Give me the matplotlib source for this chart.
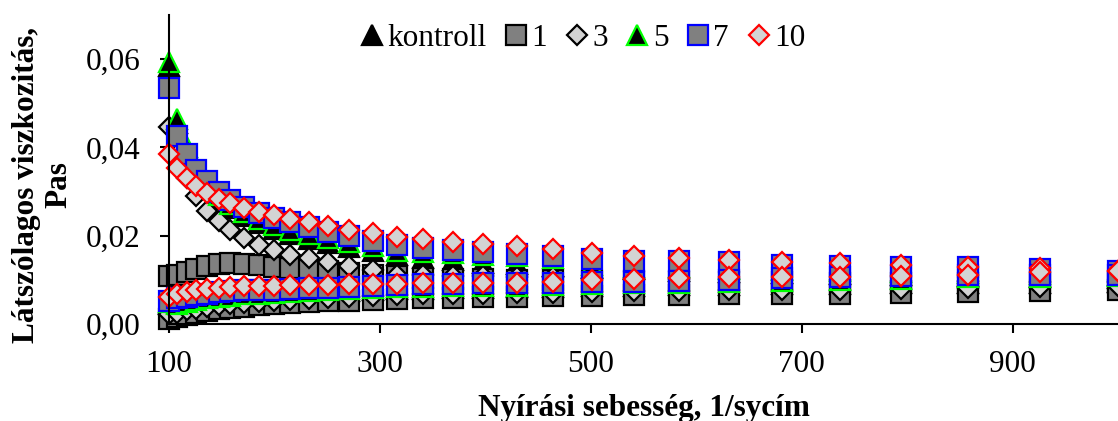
import matplotlib
matplotlib.use("Agg")
import matplotlib.pyplot as plt
from matplotlib import ticker as tick

plt.rcParams['font.family'] = ['Liberation Serif', 'DejaVu Serif']

# nyirasi sebesseg (1/s)
sebesseg = [100, 108, 117, 126, 136, 147, 158, 171, 185, 200, 215, 233, 251, 271, 293, 316,
            341, 369, 398, 430, 464, 501, 541, 584, 631, 681, 736, 794, 858, 926, 1000]

# latszolagos viszkozitas (Pas), felso es also ag mintankent
kontroll_felso = [0.0585, 0.0455, 0.0390, 0.0345, 0.0310, 0.0283, 0.0262, 0.0244, 0.0228, 0.0215,
                  0.0203, 0.0193, 0.0184, 0.0175, 0.0166, 0.0157, 0.0150, 0.0144, 0.0139, 0.0135,
                  0.0131, 0.0127, 0.0124, 0.0121, 0.0118, 0.0115, 0.0113, 0.0111, 0.0109, 0.0107, 0.0105]
kontroll_also = [0.0045, 0.0045, 0.0047, 0.0050, 0.0054, 0.0057, 0.0060, 0.0063, 0.0065, 0.0067,
                 0.0069, 0.0071, 0.0073, 0.0075, 0.0077, 0.0079, 0.0080, 0.0081, 0.0082, 0.0083,
                 0.0084, 0.0086, 0.0087, 0.0088, 0.0089, 0.0090, 0.0091, 0.0092, 0.0093, 0.0094, 0.0095]

m1_felso = [0.0109, 0.0112, 0.0117, 0.0124, 0.0131, 0.0136, 0.0138, 0.0136, 0.0133, 0.0129,
            0.0126, 0.0123, 0.0120, 0.0116, 0.0112, 0.0108, 0.0105, 0.0103, 0.0101, 0.0100,
            0.0099, 0.0098, 0.0097, 0.0096, 0.0096, 0.0095, 0.0094, 0.0094, 0.0093, 0.0093, 0.0092]
m1_also = [0.0011, 0.0015, 0.0020, 0.0025, 0.0029, 0.0033, 0.0036, 0.0039, 0.0042, 0.0045,
           0.0047, 0.0049, 0.0051, 0.0053, 0.0055, 0.0057, 0.0059, 0.0060, 0.0061, 0.0062,
           0.0063, 0.0064, 0.0065, 0.0066, 0.0067, 0.0068, 0.0069, 0.0071, 0.0073, 0.0075, 0.0077]

m3_felso = [0.0446, 0.0385, 0.0330, 0.0290, 0.0257, 0.0233, 0.0213, 0.0195, 0.0178, 0.0167,
            0.0157, 0.0149, 0.0140, 0.0132, 0.0122, 0.0112, 0.0110, 0.0109, 0.0108, 0.0107,
            0.0106, 0.0104, 0.0103, 0.0102, 0.0101, 0.0100, 0.0099, 0.0098, 0.0097, 0.0096, 0.0095]
m3_also = [0.0022, 0.0026, 0.0031, 0.0035, 0.0039, 0.0042, 0.0045, 0.0048, 0.0050, 0.0053,
           0.0055, 0.0057, 0.0059, 0.0061, 0.0063, 0.0065, 0.0067, 0.0068, 0.0069, 0.0070,
           0.0071, 0.0073, 0.0074, 0.0075, 0.0076, 0.0077, 0.0078, 0.0079, 0.0081, 0.0083, 0.0085]

m5_felso = [0.0593, 0.0465, 0.0400, 0.0355, 0.0320, 0.0293, 0.0272, 0.0254, 0.0238, 0.0225,
            0.0213, 0.0203, 0.0194, 0.0185, 0.0176, 0.0166, 0.0163, 0.0160, 0.0157, 0.0154,
            0.0150, 0.0133, 0.0130, 0.0128, 0.0125, 0.0122, 0.0120, 0.0118, 0.0116, 0.0114, 0.0112]
m5_also = [0.0050, 0.0046, 0.0050, 0.0054, 0.0058, 0.0061, 0.0064, 0.0067, 0.0069, 0.0071,
           0.0073, 0.0075, 0.0077, 0.0079, 0.0081, 0.0083, 0.0084, 0.0085, 0.0086, 0.0087,
           0.0088, 0.0091, 0.0092, 0.0093, 0.0095, 0.0097, 0.0100, 0.0103, 0.0106, 0.0107, 0.0108]

m7_felso = [0.0534, 0.0426, 0.0384, 0.0350, 0.0323, 0.0300, 0.0282, 0.0266, 0.0252, 0.0240,
            0.0230, 0.0220, 0.0209, 0.0199, 0.0189, 0.0179, 0.0173, 0.0167, 0.0163, 0.0159,
            0.0153, 0.0147, 0.0143, 0.0142, 0.0140, 0.0134, 0.0132, 0.0130, 0.0128, 0.0125, 0.0121]
m7_also = [0.0052, 0.0058, 0.0062, 0.0066, 0.0069, 0.0072, 0.0074, 0.0076, 0.0077, 0.0078,
           0.0080, 0.0081, 0.0082, 0.0084, 0.0086, 0.0089, 0.0090, 0.0091, 0.0092, 0.0093,
           0.0094, 0.0096, 0.0096, 0.0098, 0.0099, 0.0104, 0.0107, 0.0109, 0.0110, 0.0111, 0.0112]

m10_felso = [0.0386, 0.0354, 0.0331, 0.0312, 0.0297, 0.0283, 0.0273, 0.0263, 0.0254, 0.0246,
             0.0238, 0.0230, 0.0223, 0.0214, 0.0206, 0.0198, 0.0193, 0.0185, 0.0181, 0.0176,
             0.0169, 0.0161, 0.0155, 0.0150, 0.0145, 0.0141, 0.0138, 0.0134, 0.0130, 0.0127, 0.0121]
m10_also = [0.0062, 0.0068, 0.0072, 0.0076, 0.0079, 0.0081, 0.0083, 0.0085, 0.0086, 0.0087,
            0.0088, 0.0089, 0.0089, 0.0090, 0.0090, 0.0091, 0.0092, 0.0093, 0.0093, 0.0094,
            0.0095, 0.0100, 0.0101, 0.0104, 0.0106, 0.0106, 0.0107, 0.0109, 0.0111, 0.0117, 0.0119]

nevek = ['kontroll', '1', '3', '5', '7', '10']
felso = [kontroll_felso, m1_felso, m3_felso, m5_felso, m7_felso, m10_felso]
also = [kontroll_also, m1_also, m3_also, m5_also, m7_also, m10_also]

stilus = [
    dict(marker='^', ms=15, mfc='black', mec='black'),
    dict(marker='s', ms=15, mfc='#808080', mec='black'),
    dict(marker='D', ms=10.5, mfc='#D3D3D3', mec='black'),
    dict(marker='^', ms=15, mfc='black', mec='#00FF00'),
    dict(marker='s', ms=15, mfc='#808080', mec='#0000FF'),
    dict(marker='D', ms=10.5, mfc='#D3D3D3', mec='#FF0000'),
]

fig = plt.figure(figsize=(11.18, 4.21), dpi=100)
ax = fig.add_axes([169 / 1118, 1 - 324 / 421, 1 - 169 / 1118, 309 / 421])

kezelok = []
for nev, f, a, st in zip(nevek, felso, also, stilus):
    h, = ax.plot(sebesseg, f, ls='none', mew=1.6, clip_on=False, label=nev, **st)
    ax.plot(sebesseg, a, ls='none', mew=1.6, clip_on=False, **st)
    kezelok.append(h)

ax.set_xlim(100, 1000)
ax.set_ylim(0, 0.07)
ax.set_xticks([100, 300, 500, 700, 900])
ax.set_yticks([0, 0.02, 0.04, 0.06])
ax.yaxis.set_major_formatter(tick.FuncFormatter(lambda v, p: ('%.2f' % v).replace('.', ',')))

for s in ['top', 'right']:
    ax.spines[s].set_visible(False)
for s in ['left', 'bottom']:
    ax.spines[s].set_linewidth(1.5)
ax.tick_params(axis='both', direction='out', length=6.5, width=1.5, labelsize=22.5)
ax.tick_params(axis='x', pad=12)
ax.tick_params(axis='y', pad=14)

fig.text(43 / 1118, 1 - 185 / 421, 'Látszólagos viszkozitás,\nPas', rotation=90,
         ha='center', va='center', multialignment='center', fontsize=22.5,
         fontweight='bold', linespacing=1.15)
# tengelyfelirat a tengely kozepere, alapvonal a kep aljanal
fig.text(643.5 / 1118, 1 - 416 / 421, 'Nyírási sebesség, 1/sycím', ha='center', va='baseline',
         fontsize=22.5, fontweight='bold')

fig.legend(handles=kezelok, loc='center left', bbox_to_anchor=(361 / 1118, 1 - 38 / 421),
           ncol=6, frameon=False, fontsize=22.5, handlelength=0.7, handletextpad=0.14,
           columnspacing=0.6, borderpad=0, borderaxespad=0, markerscale=0.95)

fig.savefig('out.png', dpi=100)
